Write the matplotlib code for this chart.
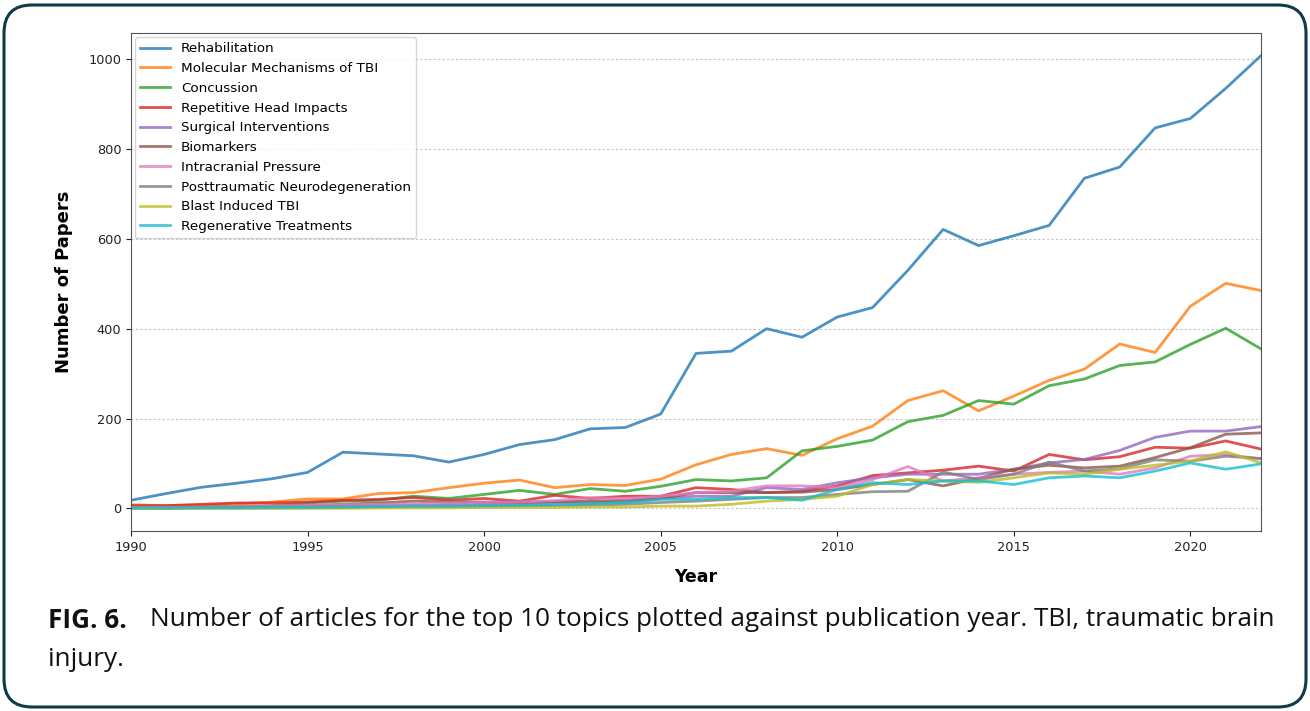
import matplotlib
matplotlib.use("Agg")
import matplotlib.pyplot as plt
from matplotlib.patches import FancyBboxPatch

years = list(range(1990, 2023))

topics = [
    "Rehabilitation",
    "Molecular Mechanisms of TBI",
    "Concussion",
    "Repetitive Head Impacts",
    "Surgical Interventions",
    "Biomarkers",
    "Intracranial Pressure",
    "Posttraumatic Neurodegeneration",
    "Blast Induced TBI",
    "Regenerative Treatments",
]

rehabilitation = [18, 33, 47, 56, 66, 80, 125, 121, 117, 103, 120, 142, 153, 177, 180, 210, 345,
                  350, 400, 381, 426, 447, 530, 621, 585, 607, 630, 735, 760, 847, 868, 935, 1008]
molecular = [8, 6, 7, 10, 14, 21, 21, 33, 35, 46, 56, 63, 46, 53, 51, 65, 97,
             120, 133, 118, 155, 183, 240, 262, 217, 250, 285, 310, 366, 347, 450, 501, 485]
concussion = [2, 2, 3, 4, 6, 12, 16, 18, 27, 22, 31, 40, 31, 44, 38, 49, 64,
              61, 68, 128, 138, 152, 193, 207, 240, 232, 273, 288, 318, 326, 365, 401, 355]
repetitive = [6, 6, 9, 12, 12, 14, 18, 20, 24, 18, 22, 16, 29, 22, 27, 27, 46,
              42, 35, 38, 50, 73, 79, 85, 94, 83, 120, 108, 115, 136, 134, 150, 132]
surgical = [1, 1, 2, 2, 3, 4, 5, 6, 7, 8, 9, 10, 12, 12, 14, 22, 27,
            27, 46, 42, 57, 68, 76, 76, 76, 87, 101, 109, 129, 158, 172, 172, 182]
biomarkers = [1, 1, 2, 3, 4, 6, 9, 12, 16, 14, 14, 13, 15, 16, 18, 22, 35,
              35, 35, 36, 42, 53, 64, 50, 67, 87, 96, 90, 94, 113, 135, 165, 168]
icp = [2, 2, 3, 4, 5, 6, 8, 9, 10, 12, 13, 14, 17, 24, 22, 27, 35,
       38, 50, 50, 46, 64, 93, 61, 68, 76, 80, 83, 76, 90, 116, 120, 110]
neurodegeneration = [0, 0, 1, 1, 1, 2, 2, 3, 3, 4, 4, 5, 6, 7, 9, 13, 16,
                     20, 24, 24, 31, 37, 38, 81, 64, 76, 103, 83, 88, 108, 105, 116, 111]
blast = [0, 0, 0, 0, 0, 0, 0, 1, 1, 1, 2, 2, 2, 3, 3, 5, 5,
         9, 16, 20, 27, 53, 64, 61, 58, 68, 79, 76, 87, 96, 105, 126, 101]
regenerative = [1, 1, 1, 1, 2, 2, 3, 4, 5, 5, 6, 7, 8, 10, 13, 20, 20,
                24, 24, 18, 42, 57, 53, 61, 61, 53, 68, 72, 68, 83, 101, 87, 99]

series = [rehabilitation, molecular, concussion, repetitive, surgical,
          biomarkers, icp, neurodegeneration, blast, regenerative]

caption_bold = "FIG. 6."
caption_1 = "Number of articles for the top 10 topics plotted against publication year. TBI, traumatic brain"
caption_2 = "injury."

fig = plt.figure(figsize=(13.1, 7.11), dpi=100)

# rounded page frame (display coords, origin bottom-left)
frame = FancyBboxPatch((4, 4), 1302, 702, boxstyle="round,pad=0,rounding_size=28",
                       transform=None, fill=False, edgecolor="#0d3b47", linewidth=2.2)
fig.patches.append(frame)

ax = fig.add_axes([0.1, 0.2532, 0.8626, 0.7004])
for vals, name in zip(series, topics):
    ax.plot(years, vals, label=name, linewidth=2, alpha=0.8)

ax.set_xlim(1990, 2022)
ax.set_xticks([1990, 1995, 2000, 2005, 2010, 2015, 2020])
ax.set_yticks([0, 200, 400, 600, 800, 1000])
ax.tick_params(labelsize=9.3, colors="#222222")
ax.grid(axis="y", linestyle=(0, (2, 2)), color="#c4c4c4", linewidth=0.8)
for s in ax.spines.values():
    s.set_color("#555555")

ax.set_xlabel("Year", fontsize=12.5, fontweight="bold", labelpad=10)
ax.set_ylabel("Number of Papers", fontsize=13, fontweight="bold", labelpad=11)
ax.legend(loc="upper left", fontsize=9.7, handlelength=2.2, labelspacing=0.5,
          borderaxespad=0.3)

fig.text(48 / 1310, 1 - 620 / 711, caption_bold, fontsize=18.8, fontweight="bold",
         family="Open Sans", color="#111111", va="center")
fig.text(150 / 1310, 1 - 620 / 711, caption_1, fontsize=18.8, family="Open Sans",
         color="#111111", va="center")
fig.text(48 / 1310, 1 - 660 / 711, caption_2, fontsize=18.8, family="Open Sans",
         color="#111111", va="center")

fig.savefig("out.png", dpi=100)
